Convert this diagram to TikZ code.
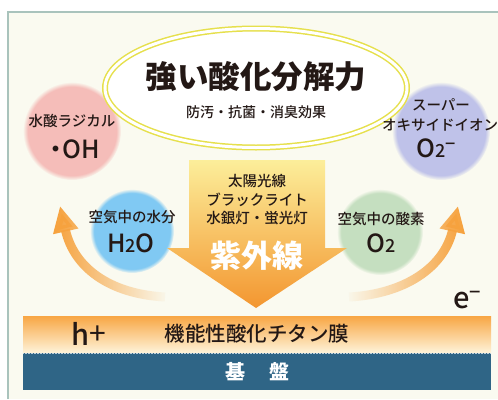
\documentclass[tikz,border=0pt]{standalone}
\usepackage{fontspec}
\setmainfont{Noto Sans CJK JP}
\newfontfamily\jpmed{Noto Sans CJK JP Medium}
\newfontfamily\jpblk{Noto Sans CJK JP Black}
\usetikzlibrary{arrows.meta,fadings,shapes.geometric}
\definecolor{bgc}{HTML}{FAFAF0}
\definecolor{framec}{HTML}{A9C3BC}
\definecolor{bandT}{HTML}{F8A644}
\definecolor{bandB}{HTML}{FEF4DA}
\definecolor{bluec}{HTML}{2F6586}
\definecolor{ylw}{HTML}{E6E04C}
\definecolor{pinkc}{HTML}{F5BDB9}
\definecolor{purc}{HTML}{BFC2E9}
\definecolor{skyc}{HTML}{80C9F3}
\definecolor{grnc}{HTML}{C5DFC0}
\definecolor{arrT}{HTML}{FCEE9A}
\definecolor{arrM}{HTML}{F9C55A}
\definecolor{arrB}{HTML}{F39630}
\definecolor{curvc}{HTML}{F6A23E}
\definecolor{txtc}{HTML}{231815}
\tikzfading[name=fadeR, left color=transparent!0, middle color=transparent!15, right color=transparent!100]
\tikzfading[name=fadeL, left color=transparent!100, middle color=transparent!15, right color=transparent!0]
\tikzset{
  lab/.style={font=\jpmed\fontsize{14.5}{15}\selectfont, text=txtc, inner sep=0pt},
  chem/.style={font=\jpmed\fontsize{25}{25}\selectfont, text=txtc, inner sep=0pt},
  curvarrow/.style={curvc, line width=9pt, -{Triangle[length=26pt,width=24pt]}},
  blob/.style={path fading=circle with fuzzy edge 10 percent}
}
\newcommand{\smallnum}[1]{{\fontsize{18}{18}\selectfont #1}}
\begin{document}
\begin{tikzpicture}[x=1pt,y=-1pt]
\useasboundingbox (0,0) rectangle (498,399);
\fill[white] (0,0) rectangle (498,399);
\fill[bgc] (8,12) rectangle (498,399);
\draw[framec, line width=1.2pt] (8,399) -- (8,12) -- (498,12);

% curved arrows
\coordinate (lt) at (165,297);
\coordinate (lh) at (60,206);
\coordinate (rt) at (349,297);
\coordinate (rh) at (458,206);
\draw[curvarrow, path fading=fadeR] (lt) .. controls (110,294) and (74,268) .. (lh);
\draw[curvarrow, path fading=fadeL] (rt) .. controls (404,294) and (444,268) .. (rh);

% circles
\fill[pinkc, blob] (72,131) circle (49);
\fill[purc, blob] (441,131) circle (49);
\fill[skyc, blob] (132,231) circle (42);
\fill[grnc, blob] (380,232) circle (43);

% big arrow
\shade[top color=arrT, middle color=arrM, bottom color=arrB]
  (189,160) -- (325,160) -- (325,248) -- (347,248) -- (256,308) -- (167,248) -- (189,248) -- cycle;

% ellipse
\node[ellipse, draw=ylw, double=white, double distance=3pt, line width=1.5pt, fill=white,
      minimum width=302pt, minimum height=119pt, inner sep=0pt] (ell) at (256,88) {};
\node[font=\jpblk\fontsize{31.5}{32}\selectfont, text=txtc, inner sep=0pt] (title) at (256,77) {強い酸化分解力};
\node[font=\jpmed\fontsize{14}{14}\selectfont, text=txtc, inner sep=0pt] (sub) at (256,112) {防汚・抗菌・消臭効果};

% circle labels
\node[lab] (ohlab) at (72,121) {水酸ラジカル};
\node[chem] (oh) at (72,149) {・\kern-6pt OH};
\node[lab] (splab1) at (441,105) {スーパー};
\node[lab] (splab2) at (440,125) {オキサイドイオン};
\node[chem, anchor=base] (o2m) at (436,157) {O\smallnum{2}\raisebox{7pt}{\smallnum{−}}};
\node[lab] (h2olab) at (132,217) {空気中の水分};
\node[chem, anchor=base] (h2o) at (131,252) {H\smallnum{2}O};
\node[lab] (o2lab) at (381,219) {空気中の酸素};
\node[chem, anchor=base] (o2) at (381,252) {O\smallnum{2}};

% arrow texts
\node[lab] (uv1) at (257,181) {太陽光線};
\node[lab] (uv2) at (257,200) {ブラックライト};
\node[lab] (uv3) at (257,218) {水銀灯・蛍光灯};
\node[font=\jpblk\fontsize{31}{31}\selectfont, text=white, inner sep=0pt] (uv) at (257,256) {紫外線};

% bands
\shade[top color=bandT, bottom color=bandB] (23,316) rectangle (491,353);
\fill[bluec] (23,353) rectangle (491,390);
\draw[white!70!bluec, densely dotted, line width=0.5pt] (23,353.5) -- (491,353.5);
\node[font=\jpmed\fontsize{29}{29}\selectfont, text=txtc, inner sep=0pt, anchor=base] (hp) at (89,345)
  {h\raisebox{1pt}{\fontsize{30}{30}\selectfont\rmfamily +}};
\node[font=\jpmed\fontsize{20.5}{21}\selectfont, text=txtc, inner sep=0pt] (film) at (257,334) {機能性酸化チタン膜};
\node[font=\jpmed\fontsize{29}{29}\selectfont, text=txtc, inner sep=0pt, anchor=base] (em) at (467,308)
  {e\raisebox{9pt}{\fontsize{20}{20}\selectfont −}};
\node[font=\bfseries\fontsize{20}{20}\selectfont, text=white, inner sep=0pt] (base) at (257,372) {基\hspace{24pt}盤};
\end{tikzpicture}
\end{document}
